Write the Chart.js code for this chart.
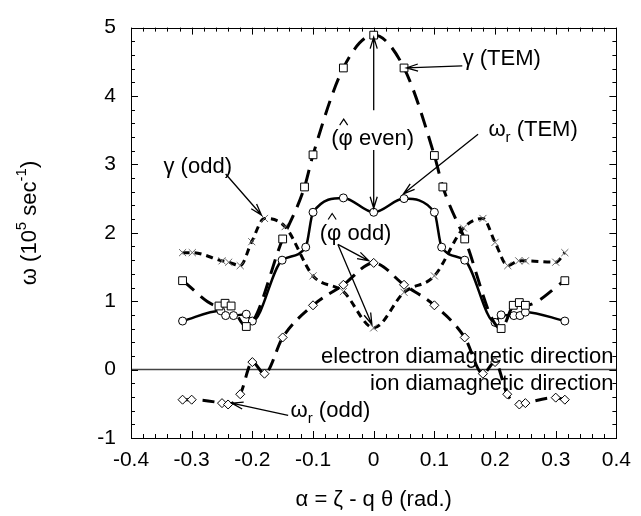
<!DOCTYPE html>
<html>
<head>
<meta charset="utf-8">
<script src="https://cdn.jsdelivr.net/npm/chart.js@4.4.1/dist/chart.umd.min.js"></script>
<style>
  body { margin: 0; background: #fff; }
  canvas { display: block; }
</style>
</head>
<body>
<canvas id="plot" width="641" height="516"></canvas>
<script>
const xTicks = [-0.4, -0.3, -0.2, -0.1, 0, 0.1, 0.2, 0.3, 0.4];
const yTicks = [-1, 0, 1, 2, 3, 4, 5];

// gamma (TEM), squares
const gammaTemX = [-0.315, -0.255, -0.245, -0.235, -0.21, -0.15, -0.114, -0.1, -0.05, 0, 0.05, 0.1, 0.114, 0.15, 0.21, 0.23, 0.24, 0.25, 0.315];
const gammaTemY = [1.30, 0.93, 0.97, 0.93, 0.63, 1.91, 2.67, 3.14, 4.41, 4.89, 4.41, 3.13, 2.67, 1.91, 0.60, 0.94, 0.98, 0.94, 1.30];

// omega_r (TEM), circles
const omegaTemX = [-0.315, -0.252, -0.244, -0.231, -0.21, -0.2, -0.151, -0.112, -0.1, -0.05, 0, 0.05, 0.1, 0.112, 0.15, 0.2, 0.21, 0.231, 0.241, 0.25, 0.315];
const omegaTemY = [0.71, 0.86, 0.79, 0.79, 0.81, 0.71, 1.60, 1.79, 2.30, 2.51, 2.30, 2.50, 2.30, 1.79, 1.60, 0.69, 0.80, 0.79, 0.79, 0.84, 0.71];

// gamma (odd), crosses
const gammaOddX = [-0.315, -0.299, -0.25, -0.239, -0.22, -0.201, -0.18, -0.146, -0.1, -0.05, 0, 0.05, 0.1, 0.148, 0.18, 0.2, 0.221, 0.239, 0.25, 0.3, 0.315];
const gammaOddY = [1.71, 1.71, 1.59, 1.57, 1.52, 1.87, 2.21, 2.09, 1.37, 1.14, 0.61, 1.13, 1.37, 2.07, 2.21, 1.86, 1.52, 1.59, 1.59, 1.57, 1.71];

// omega_r (odd), diamonds
const omegaOddX = [-0.315, -0.3, -0.25, -0.24, -0.22, -0.2, -0.18, -0.15, -0.1, -0.05, 0, 0.05, 0.1, 0.15, 0.18, 0.2, 0.22, 0.24, 0.25, 0.3, 0.315];
const omegaOddY = [-0.44, -0.44, -0.49, -0.51, -0.36, 0.11, -0.06, 0.47, 0.94, 1.24, 1.56, 1.24, 0.94, 0.47, -0.06, 0.11, -0.36, -0.51, -0.49, -0.41, -0.44];

const FONT = "'Liberation Sans', Arial, Helvetica, sans-serif";
const TXT = 22;
const SUB = 15;

function pts(xs, ys) {
  return xs.map((x, i) => ({ x: x, y: ys[i] }));
}

function fmt(v) {
  const r = Math.round(v * 10) / 10;
  return r === 0 ? '0' : String(r);
}

// arrow with an open V head at (x2,y2)
function arrow(ctx, x1, y1, x2, y2) {
  const a = Math.atan2(y2 - y1, x2 - x1);
  const len = 12, spread = 0.3;
  ctx.beginPath();
  ctx.moveTo(x1, y1);
  ctx.lineTo(x2, y2);
  ctx.moveTo(x2 - len * Math.cos(a - spread), y2 - len * Math.sin(a - spread));
  ctx.lineTo(x2, y2);
  ctx.lineTo(x2 - len * Math.cos(a + spread), y2 - len * Math.sin(a + spread));
  ctx.stroke();
}

// text like "ω_r (TEM)" : main glyph, subscript, rest
function subText(ctx, x, y, main, sub, rest) {
  ctx.textAlign = 'left';
  ctx.font = TXT + 'px ' + FONT;
  ctx.fillText(main, x, y);
  let w = ctx.measureText(main).width;
  ctx.font = SUB + 'px ' + FONT;
  ctx.fillText(sub, x + w, y + 8);
  w += ctx.measureText(sub).width;
  ctx.font = TXT + 'px ' + FONT;
  ctx.fillText(rest, x + w, y);
}

// "(φ even)" with a hat over the phi
function hatText(ctx, x, y, word) {
  ctx.textAlign = 'left';
  ctx.font = TXT + 'px ' + FONT;
  ctx.fillText('(', x, y);
  const w0 = ctx.measureText('(').width;
  ctx.fillText('φ', x + w0, y);
  const wp = ctx.measureText('φ').width;
  ctx.fillText(' ' + word + ')', x + w0 + wp, y);
  const cx = x + w0 + wp / 2 - 2;
  ctx.beginPath();
  ctx.lineWidth = 1.2;
  ctx.moveTo(cx - 4, y - 14);
  ctx.lineTo(cx, y - 20);
  ctx.lineTo(cx + 4, y - 14);
  ctx.stroke();
}

const frame = {
  id: 'frame',
  beforeDatasetsDraw(chart) {
    const { ctx, chartArea: a, scales: { x, y } } = chart;
    ctx.save();
    // zero line
    const y0 = y.getPixelForValue(0);
    ctx.strokeStyle = '#444';
    ctx.lineWidth = 1.5;
    ctx.beginPath();
    ctx.moveTo(a.left, y0);
    ctx.lineTo(a.right, y0);
    ctx.stroke();

    // inward ticks on all four sides
    ctx.strokeStyle = '#000';
    ctx.lineWidth = 1;
    ctx.beginPath();
    for (let i = 0; i <= 40; i++) {
      const v = -0.4 + i * 0.02;
      const px = Math.round(x.getPixelForValue(v)) + 0.5;
      const len = i % 5 === 0 ? 7 : 4;
      ctx.moveTo(px, a.bottom);
      ctx.lineTo(px, a.bottom - len);
      ctx.moveTo(px, a.top);
      ctx.lineTo(px, a.top + len);
    }
    for (let i = 0; i <= 30; i++) {
      const v = -1 + i * 0.2;
      const py = Math.round(y.getPixelForValue(v)) + 0.5;
      const len = i % 5 === 0 ? 7 : 4;
      ctx.moveTo(a.left, py);
      ctx.lineTo(a.left + len, py);
      ctx.moveTo(a.right, py);
      ctx.lineTo(a.right - len, py);
    }
    ctx.stroke();
    ctx.strokeRect(Math.round(a.left) + 0.5, Math.round(a.top) + 0.5, Math.round(a.right - a.left), Math.round(a.bottom - a.top));
    ctx.restore();
  },
  afterDraw(chart) {
    const { ctx, chartArea: a, scales: { x, y } } = chart;
    const X = v => x.getPixelForValue(v);
    const Y = v => y.getPixelForValue(v);
    ctx.save();
    ctx.fillStyle = '#000';
    ctx.strokeStyle = '#000';
    ctx.textBaseline = 'middle';

    // direction labels by the zero line
    ctx.font = TXT + 'px ' + FONT;
    ctx.textAlign = 'right';
    ctx.fillText('electron diamagnetic direction', X(0.395), Y(0.19));
    ctx.fillText('ion diamagnetic direction', X(0.395), Y(-0.21));

    ctx.textAlign = 'center';
    ctx.fillText('γ (TEM)', X(0.211), Y(4.54));
    ctx.fillText('γ (odd)', X(-0.29), Y(2.97));

    subText(ctx, X(0.189), Y(3.5), 'ω', 'r', ' (TEM)');
    subText(ctx, X(-0.137), Y(-0.61), 'ω', 'r', ' (odd)');
    hatText(ctx, X(-0.07), Y(3.37), 'even');
    hatText(ctx, X(-0.089), Y(1.99), 'odd');

    ctx.lineWidth = 1.3;
    arrow(ctx, X(0.146), Y(4.44), X(0.054), Y(4.41));
    arrow(ctx, X(0), Y(3.79), X(0), Y(4.86));
    arrow(ctx, X(0), Y(3.21), X(0), Y(2.36));
    arrow(ctx, X(0.172), Y(3.44), X(0.049), Y(2.57));
    arrow(ctx, X(-0.244), Y(2.86), X(-0.185), Y(2.26));
    arrow(ctx, X(-0.059), Y(1.83), X(-0.008), Y(1.59));
    arrow(ctx, X(-0.059), Y(1.83), X(-0.003), Y(0.66));
    arrow(ctx, X(-0.141), Y(-0.67), X(-0.234), Y(-0.49));

    // axis titles
    ctx.font = TXT + 'px ' + FONT;
    ctx.textAlign = 'center';
    ctx.fillText('α = ζ - q θ (rad.)', (a.left + a.right) / 2, 500);

    ctx.translate(30, 223);
    ctx.rotate(-Math.PI / 2);
    const parts = [['ω (10', TXT, 0], ['5', SUB, -8], [' sec', TXT, 0], ['-1', SUB, -8], [')', TXT, 0]];
    let total = 0;
    parts.forEach(p => { ctx.font = p[1] + 'px ' + FONT; total += ctx.measureText(p[0]).width; });
    let cx = -total / 2;
    ctx.textAlign = 'left';
    parts.forEach(p => {
      ctx.font = p[1] + 'px ' + FONT;
      ctx.fillText(p[0], cx, p[2]);
      cx += ctx.measureText(p[0]).width;
    });
    ctx.restore();
  }
};

const plot = document.getElementById('plot');

new Chart(plot, {
  type: 'line',
  data: {
    datasets: [
      {
        label: 'γ (TEM)',
        data: pts(gammaTemX, gammaTemY),
        borderColor: '#000',
        borderWidth: 3,
        borderDash: [15, 9],
        pointStyle: 'rect',
        pointRadius: 5.5,
        pointBorderWidth: 1,
        pointBackgroundColor: '#fff',
        pointBorderColor: '#000',
      },
      {
        label: 'ω_r (TEM)',
        data: pts(omegaTemX, omegaTemY),
        borderColor: '#000',
        borderWidth: 2.5,
        pointStyle: 'circle',
        pointRadius: 4,
        pointBorderWidth: 1,
        pointBackgroundColor: '#fff',
        pointBorderColor: '#000',
      },
      {
        label: 'γ (odd)',
        data: pts(gammaOddX, gammaOddY),
        borderColor: '#000',
        borderWidth: 3,
        borderDash: [7, 5],
        pointStyle: 'crossRot',
        pointRadius: 5,
        pointBorderWidth: 1,
        pointBorderColor: '#666',
      },
      {
        label: 'ω_r (odd)',
        data: pts(omegaOddX, omegaOddY),
        borderColor: '#000',
        borderWidth: 3,
        borderDash: [12, 8],
        pointStyle: 'rectRot',
        pointRadius: 4.5,
        pointBorderWidth: 1,
        pointBackgroundColor: '#fff',
        pointBorderColor: '#000',
      },
    ],
  },
  options: {
    responsive: false,
    animation: false,
    devicePixelRatio: 1,
    cubicInterpolationMode: 'monotone',
    layout: { padding: { top: 18, right: 18, left: 0, bottom: 0 } },
    plugins: {
      legend: { display: false },
      tooltip: { enabled: false },
    },
    scales: {
      x: {
        type: 'linear',
        min: -0.4,
        max: 0.4,
        afterFit: s => { s.height = 78; },
        afterBuildTicks: s => { s.ticks = xTicks.map(v => ({ value: v })); },
        grid: { display: false, drawTicks: false },
        border: { display: false },
        ticks: { padding: 10, color: '#000', maxRotation: 0, autoSkip: false, font: { family: FONT, size: 21 }, callback: fmt },
      },
      y: {
        min: -1,
        max: 5,
        afterFit: s => { s.width = 131; },
        afterBuildTicks: s => { s.ticks = yTicks.map(v => ({ value: v })); },
        grid: { display: false, drawTicks: false },
        border: { display: false },
        ticks: { padding: 15, color: '#000', autoSkip: false, font: { family: FONT, size: 21 }, callback: fmt },
      },
    },
  },
  plugins: [frame],
});
</script>
</body>
</html>
